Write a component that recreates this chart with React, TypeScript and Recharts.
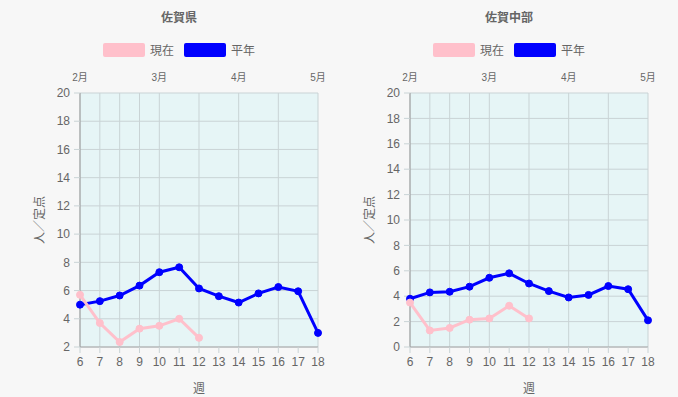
import React from 'react';
import { LineChart, Line, XAxis, YAxis, CartesianGrid } from 'recharts';

// weeks on the x axis
const weeks = [6, 7, 8, 9, 10, 11, 12, 13, 14, 15, 16, 17, 18];
// month labels on the top axis (week -> label)
const monthWeeks = [6, 10, 14, 18];
const monthLabels = ['2月', '3月', '4月', '5月'];

// 佐賀県
const sagaNow = [5.7, 3.7, 2.35, 3.3, 3.5, 4.0, 2.65];
const sagaNormal = [5.0, 5.25, 5.65, 6.35, 7.3, 7.65, 6.15, 5.6, 5.15, 5.8, 6.25, 5.95, 3.0];

// 佐賀中部
const chubuNow = [3.5, 1.3, 1.5, 2.15, 2.25, 3.25, 2.25];
const chubuNormal = [3.8, 4.3, 4.35, 4.75, 5.45, 5.8, 5.0, 4.4, 3.9, 4.1, 4.8, 4.55, 2.1];

const yTicksSaga = [2, 4, 6, 8, 10, 12, 14, 16, 18, 20];
const yTicksChubu = [0, 2, 4, 6, 8, 10, 12, 14, 16, 18, 20];

const font = 'Arial, "Liberation Sans", "Noto Sans CJK JP", sans-serif';
const textColor = '#666';
const gridColor = '#c9d3d5';

const buildRows = (now: number[], normal: number[]) =>
  weeks.map((w, i) => ({
    week: w,
    now: i < now.length ? now[i] : null,
    normal: normal[i],
  }));

const monthFormatter = (v: number) => monthLabels[monthWeeks.indexOf(v)] ?? '';

type PanelProps = {
  title: string;
  now: number[];
  normal: number[];
  domain: [number, number];
  ticks: number[];
  left: number;
};

const Panel: React.FC<PanelProps> = ({ title, now, normal, domain, ticks, left }) => {
  const rows = buildRows(now, normal);
  return (
    <div style={{ position: 'absolute', left, top: 0, width: 339, height: 397, fontFamily: font }}>
      <div
        style={{
          position: 'absolute', left: 0, width: 358, top: 8, textAlign: 'center',
          fontSize: 12, fontWeight: 'bold', color: textColor,
        }}
      >
        {title}
      </div>
      <div
        style={{
          position: 'absolute', left: 0, width: 358, top: 41, display: 'flex',
          justifyContent: 'center', alignItems: 'center', fontSize: 12, color: textColor,
        }}
      >
        <span style={{ width: 42, height: 14, background: 'pink', borderRadius: 2, marginRight: 5 }} />
        <span style={{ marginRight: 10 }}>現在</span>
        <span style={{ width: 42, height: 14, background: 'blue', borderRadius: 2, marginRight: 5 }} />
        <span>平年</span>
      </div>
      <LineChart
        width={339}
        height={397}
        data={rows}
        margin={{ top: 63, right: 21, bottom: 0, left: 0 }}
        style={{ position: 'absolute', left: 0, top: 0 }}
      >
        <CartesianGrid fill="#e6f5f6" stroke={gridColor} />
        <XAxis
          dataKey="week"
          type="number"
          domain={[6, 18]}
          ticks={weeks}
          height={50}
          tickSize={6}
          tickMargin={4}
          tick={{ fill: textColor, fontSize: 12, fontFamily: font }}
          axisLine={{ stroke: '#aaa' }}
          tickLine={{ stroke: gridColor }}
          label={{ value: '週', position: 'insideBottom', offset: 4, fill: textColor, fontSize: 12, fontFamily: font }}
        />
        <XAxis
          xAxisId="top"
          dataKey="week"
          type="number"
          orientation="top"
          domain={[6, 18]}
          ticks={monthWeeks}
          tickFormatter={monthFormatter}
          height={30}
          tickSize={6}
          tickMargin={6}
          tickLine={false}
          axisLine={false}
          tick={{ fill: textColor, fontSize: 10, fontFamily: font }}
        />
        <YAxis
          domain={domain}
          ticks={ticks}
          width={80}
          tickSize={6}
          tickMargin={4}
          interval={0}
          tick={{ fill: textColor, fontSize: 12, fontFamily: font }}
          axisLine={{ stroke: '#999' }}
          tickLine={{ stroke: gridColor }}
          label={{
            value: '人／定点', angle: -90, position: 'insideLeft', offset: 40,
            style: { textAnchor: 'middle' }, fill: textColor, fontSize: 12, fontFamily: font,
          }}
        />
        <Line
          dataKey="normal"
          stroke="blue"
          strokeWidth={3}
          dot={{ r: 3.5, fill: 'blue', stroke: 'blue', strokeWidth: 1 }}
          isAnimationActive={false}
        />
        <Line
          dataKey="now"
          stroke="pink"
          strokeWidth={3}
          dot={{ r: 3.5, fill: 'pink', stroke: 'pink', strokeWidth: 1 }}
          connectNulls={false}
          isAnimationActive={false}
        />
      </LineChart>
    </div>
  );
};

const App: React.FC = () => {
  return (
    <div style={{ position: 'absolute', left: 0, top: 0, width: 678, height: 397, background: '#f7f7f7', overflow: 'hidden' }}>
      <Panel title="佐賀県" now={sagaNow} normal={sagaNormal} domain={[2, 20]} ticks={yTicksSaga} left={0} />
      <Panel title="佐賀中部" now={chubuNow} normal={chubuNormal} domain={[0, 20]} ticks={yTicksChubu} left={330} />
    </div>
  );
};

export default App;
